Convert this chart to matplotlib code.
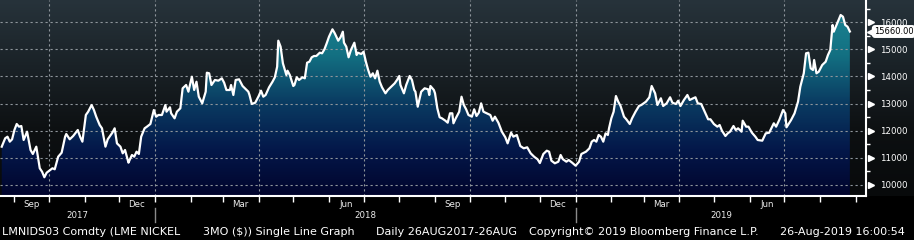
import numpy as np
import matplotlib
matplotlib.use("Agg")
import matplotlib.pyplot as plt
import matplotlib.dates as mdates
from matplotlib.colors import LinearSegmentedColormap
from matplotlib.transforms import blended_transform_factory

# LME nickel 3M, days counted from 2017-08-21, price in $
start = np.datetime64('2017-08-21')
day = [0, 3, 5, 7, 9, 11, 13, 15, 17, 19, 22, 25, 27, 30, 33, 35, 37, 39, 42, 44,
       46, 49, 52, 55, 56, 59, 62, 66, 68, 70, 73, 75, 78, 80, 82, 85, 87, 90, 92, 96,
       98, 100, 103, 105, 107, 110, 111, 113, 115, 117, 119, 121, 124, 126, 129, 132, 134, 136, 139, 142,
       143, 146, 147, 150, 152, 155, 157, 160, 162, 165, 167, 169, 171, 174, 177, 178, 180, 182, 185, 188,
       191, 193, 195, 198, 199, 201, 203, 206, 209, 211, 214, 215, 217, 220, 223, 225, 227, 229, 232, 235,
       237, 239, 240, 242, 244, 247, 248, 250, 253, 254, 256, 258, 261, 263, 265, 267, 269, 271, 273, 276,
       278, 280, 282, 284, 287, 289, 292, 294, 296, 297, 299, 301, 303, 306, 308, 309, 312, 314, 316, 318,
       320, 322, 324, 326, 328, 330, 333, 335, 338, 341, 343, 345, 346, 349, 351, 354, 356, 358, 359, 361,
       364, 367, 370, 371, 372, 375, 376, 378, 380, 382, 385, 387, 389, 391, 392, 394, 397, 399, 401, 403,
       405, 408, 410, 412, 414, 416, 418, 421, 424, 426, 428, 431, 434, 437, 439, 442, 444, 447, 450, 453,
       456, 459, 462, 465, 467, 470, 473, 475, 477, 480, 483, 485, 487, 490, 492, 495, 498, 501, 503, 507,
       510, 512, 514, 516, 518, 520, 522, 524, 526, 527, 529, 531, 533, 535, 537, 540, 542, 545, 547, 550,
       553, 555, 559, 562, 564, 567, 569, 572, 574, 577, 580, 582, 585, 587, 589, 592, 595, 597, 600, 602,
       604, 607, 610, 613, 615, 618, 621, 623, 625, 628, 630, 632, 635, 637, 639, 642, 643, 646, 648, 651,
       654, 656, 660, 663, 666, 670, 672, 675, 678, 680, 681, 685, 688, 691, 693, 696, 698, 700, 702, 704,
       705, 707, 709, 712, 715, 717, 719, 721, 722, 725, 728, 730, 732, 734, 736]
price = [11405, 11715, 11774, 11590, 11678, 12021, 12243, 12144, 12169, 11652, 11959, 11283, 11135, 11405, 10607, 10481, 10275, 10444, 10544, 10607,
         10570, 11035, 11183, 11774, 11873, 11678, 11800, 12021, 11774, 11590, 12576, 12697, 12945, 12760, 12513, 12206, 12084, 11405, 11680, 11922,
         12084, 11528, 11405, 11160, 11283, 10814, 10913, 11098, 11035, 11220, 11135, 11774, 12084, 12144, 12243, 12760, 12513, 12576, 12576, 12945,
         12697, 12860, 12638, 12453, 12697, 12823, 13562, 13684, 13437, 13990, 13499, 13806, 13252, 13007, 13437, 14138, 14116, 13684, 13869, 13843,
         13931, 13769, 13499, 13499, 13684, 13315, 13869, 13894, 13647, 13562, 13437, 13315, 12982, 13030, 13277, 13474, 13252, 13315, 13599, 13806,
         13968, 14360, 15320, 15099, 14485, 14053, 14212, 14053, 13647, 13684, 13968, 13869, 13968, 13931, 14508, 14545, 14707, 14755, 14755, 14877,
         14855, 15000, 15224, 15468, 15741, 15594, 15320, 15446, 15653, 15246, 15099, 14707, 14977, 15246, 14792, 14877, 14829, 14914, 14545, 14238,
         13990, 14116, 13931, 14212, 13806, 13599, 13377, 13499, 13622, 13746, 13869, 14016, 13684, 13377, 13684, 14016, 13869, 13499, 13437, 12882,
         13437, 13562, 13525, 13315, 13647, 13499, 13377, 12823, 12491, 12453, 12365, 12291, 12638, 12638, 12269, 12453, 12697, 13252, 12945, 12786,
         12576, 12513, 12786, 12539, 12661, 13007, 12697, 12638, 12576, 12365, 12513, 12291, 11959, 11751, 11528, 11922, 11774, 11837, 11430, 11345,
         11382, 11160, 11035, 10939, 10800, 11135, 11257, 11220, 10887, 10791, 10850, 11098, 10939, 10850, 10913, 10814, 10703, 10850, 11135, 11220,
         11345, 11590, 11652, 11590, 11837, 11774, 11590, 11897, 11837, 12084, 12453, 12697, 13277, 13067, 12908, 12513, 12417, 12243, 12453, 12697,
         12908, 12945, 13067, 13230, 13647, 13377, 12945, 13193, 12908, 13007, 13230, 13030, 12982, 13104, 12908, 13130, 13315, 13130, 13193, 13230,
         13007, 12982, 12697, 12417, 12417, 12243, 12144, 12206, 11996, 11800, 11897, 11959, 12169, 12021, 12084, 11959, 12365, 12144, 12144, 11922,
         11774, 11652, 11627, 11897, 11922, 12269, 12144, 12417, 12760, 12638, 12121, 12391, 12638, 13067, 13622, 14116, 14855, 14877, 14301, 14238,
         14607, 14116, 14175, 14422, 14545, 14792, 14977, 15900, 15653, 15963, 16270, 16207, 15900, 15837, 15660]

y_ticks = [10000, 11000, 12000, 13000, 14000, 15000, 16000]
last_label = '15660.00'
years = ['2017', '2018', '2019']
footer = ['LMNIDS03 Comdty (LME NICKEL', '3MO ($)) Single Line Graph', 'Daily 26AUG2017-26AUG',
          'Copyright\u00a9 2019 Bloomberg Finance L.P.', '26-Aug-2019 16:00:54']
footer_x = [2, 203, 376, 529, 780]

dates = start + np.array(day).astype('timedelta64[D]')
xd = mdates.date2num(dates)
x0 = mdates.date2num(start) - 1.5
x1 = mdates.date2num(start) + 750
y0, y1 = 9583, 16824

W, H = 914, 240
fig = plt.figure(figsize=(W / 100, H / 100), dpi=100, facecolor='black')

# background gradient (plot area + right label area)
bg = fig.add_axes([0, 44 / H, 1, 196 / H])
bg.axis('off')
bg_cmap = LinearSegmentedColormap.from_list('bg', ['#080a0b', '#0d1012', '#1a2227', '#27333b'])
bg.imshow(np.linspace(0, 1, 256).reshape(-1, 1), origin='lower', aspect='auto',
          cmap=bg_cmap, extent=[0, 1, 0, 1])

ax = fig.add_axes([0, 44 / H, 866 / W, 196 / H])
ax.set_facecolor('none')
ax.set_xlim(x0, x1)
ax.set_ylim(y0, y1)

# gradient fill under the line
fill_cmap = LinearSegmentedColormap.from_list('fill', ['#01042c', '#04184a', '#0a3c62', '#137082', '#1b8493'])
im = ax.imshow(np.linspace(0, 1, 256).reshape(-1, 1), origin='lower', aspect='auto', cmap=fill_cmap,
               extent=[x0, x1, y0, 16500], zorder=1)
poly = ax.fill_between(xd, price, y0, facecolor='none', edgecolor='none')
im.set_clip_path(poly.get_paths()[0], transform=ax.transData)
ax.set_ylim(y0, y1)

ax.plot(xd, price, color='white', lw=1.6, zorder=3, solid_joinstyle='round')

# grid
for v in y_ticks:
    ax.axhline(v, color='#8e959b', lw=0.8, ls=(0, (2, 2.5)), zorder=2)
for d in ['2017-10-01', '2018-01-01', '2018-04-01', '2018-07-01',
          '2018-10-01', '2019-01-01', '2019-04-01', '2019-07-01']:
    ax.axvline(mdates.date2num(np.datetime64(d)), color='#8e959b', lw=0.8, ls=(0, (2, 2.5)), zorder=2)

for s in ['top', 'left']:
    ax.spines[s].set_visible(False)
for s in ['bottom', 'right']:
    ax.spines[s].set_color('white')
    ax.spines[s].set_linewidth(1.5)

# x axis: month ticks, quarter labels
ax.xaxis.set_major_locator(mdates.MonthLocator(bymonthday=1))
ax.xaxis.set_major_formatter(plt.NullFormatter())
ax.xaxis.set_minor_locator(mdates.MonthLocator(bymonth=[3, 6, 9, 12], bymonthday=16))
ax.xaxis.set_minor_formatter(mdates.DateFormatter('%b'))
ax.tick_params(axis='x', which='major', color='white', length=4, width=1)
ax.tick_params(axis='x', which='minor', length=0, pad=3, labelsize=6.2, labelcolor='#ececec')

# y axis on the right
ax.yaxis.tick_right()
ax.set_yticks(y_ticks)
ax.set_yticks(np.arange(10500, 16600, 1000), minor=True)
ax.set_yticklabels([str(v) for v in y_ticks])
ax.tick_params(axis='y', which='major', length=0, pad=10, labelsize=6.2, labelcolor='white')
ax.tick_params(axis='y', which='minor', length=3, color='white', width=1)
tr_y = blended_transform_factory(ax.transAxes, ax.transData)
ax.plot([1.0055] * len(y_ticks), y_ticks, transform=tr_y, ls='none', marker='>',
        ms=4.5, color='white', mec='white', clip_on=False, zorder=5)

# last value tag
ax.plot([1.005], [price[-1]], transform=tr_y, marker='<', ms=5, color='white', clip_on=False, zorder=5)
ax.text(1.009, price[-1], last_label, transform=tr_y, ha='left', va='center', fontsize=6,
        color='black', zorder=6, clip_on=False,
        bbox=dict(boxstyle='round,pad=0.15,rounding_size=0.3', fc='white', ec='white'))

# years and separators
tr_x = blended_transform_factory(ax.transData, ax.transAxes)
bounds = [x0, mdates.date2num(np.datetime64('2018-01-01')),
          mdates.date2num(np.datetime64('2019-01-01')), x1]
for i, yr in enumerate(years):
    ax.text((bounds[i] + bounds[i + 1]) / 2, -0.098, yr, transform=tr_x, ha='center', va='center',
            fontsize=6.2, color='#ececec')
for b in bounds[1:3]:
    ax.plot([b, b], [-0.06, -0.135], transform=tr_x, color='#8a8a8a', lw=1, clip_on=False)

# footer
for t, px in zip(footer, footer_x):
    fig.text(px / W, 8 / H, t, ha='left', va='center', fontsize=8.0, color='white',
             family='DejaVu Sans')

fig.savefig('out.png', dpi=100, facecolor='black')
